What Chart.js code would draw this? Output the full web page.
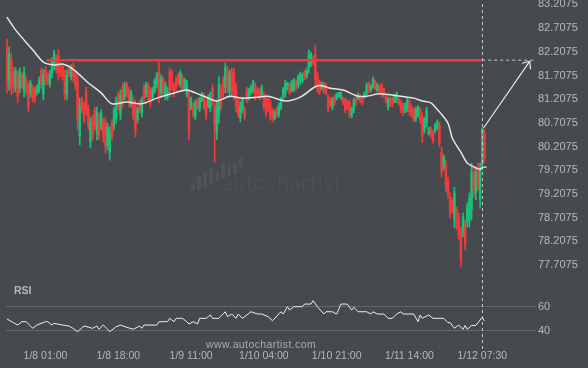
<!DOCTYPE html>
<html>
<head>
<meta charset="utf-8">
<script src="https://cdn.jsdelivr.net/npm/chart.js@4.4.1/dist/chart.umd.min.js"></script>
<style>
  html, body { margin: 0; padding: 0; background: #46494d; }
  #wrap { width: 588px; height: 368px; }
</style>
</head>
<body>
<div id="wrap"><canvas id="chart" width="588" height="368"></canvas></div>
<script>
// half-hour candles, hours counted from 1/8 00:00 (first bar = 1/7 16:00)
const firstHour = -8;
const stepHours = 0.5;

const opens = [
  82.31, 81.59, 82.05, 81.80, 81.46, 81.72, 81.44, 81.72, 81.38, 81.61,
  81.49, 81.34, 81.44, 81.40, 81.34, 81.40, 81.80, 81.32, 81.82, 81.72,
  81.53, 81.74, 81.91, 82.08, 82.14, 81.93, 81.89, 81.72, 81.32, 81.89,
  81.68, 81.91, 81.76, 81.55, 80.43, 81.21, 81.08, 81.38, 81.00, 80.30,
  80.79, 80.98, 80.49, 80.83, 80.64, 80.73, 80.73, 80.24, 80.07, 80.70,
  80.64, 80.81, 81.30, 80.89, 81.46, 81.27, 81.53, 81.40, 81.11, 81.19,
  81.08, 80.77, 81.15, 80.92, 81.44, 81.32, 81.49, 81.40, 81.25, 81.40,
  81.51, 81.78, 81.34, 81.61, 81.27, 81.25, 81.78, 81.76, 81.51, 81.63,
  81.72, 81.53, 81.65, 81.44, 81.32, 81.25, 81.04, 81.08, 80.85, 81.19,
  81.00, 81.19, 81.27, 81.13, 81.08, 81.02, 81.44, 81.08, 80.51, 80.89,
  81.42, 81.61, 81.46, 81.80, 81.36, 81.78, 81.76, 81.46, 81.19, 80.81,
  80.98, 81.00, 81.42, 81.23, 81.34, 81.40, 81.49, 81.42, 81.40, 81.30,
  81.30, 81.23, 81.21, 81.13, 80.98, 80.81, 81.00, 80.89, 81.04, 81.25,
  81.32, 81.44, 81.51, 81.40, 81.42, 81.57, 81.51, 81.57, 81.59, 81.78,
  81.70, 81.87, 81.95, 82.05, 82.14, 81.72, 81.57, 81.44, 81.53, 81.51,
  81.23, 81.21, 81.04, 81.25, 81.21, 81.27, 81.23, 81.23, 81.19, 81.15,
  81.13, 80.85, 80.98, 81.25, 81.21, 81.27, 81.23, 81.25, 81.34, 81.53,
  81.40, 81.49, 81.57, 81.40, 81.49, 81.51, 81.42, 81.25, 81.04, 81.21,
  81.23, 81.17, 81.19, 81.21, 81.15, 81.08, 80.96, 81.00, 81.15, 81.04,
  80.98, 80.79, 80.87, 80.98, 80.83, 80.56, 80.70, 80.47, 80.58, 80.51,
  80.54, 80.60, 80.64, 80.09, 79.78, 79.82, 79.50, 79.14, 79.08, 78.66,
  78.87, 78.72, 78.38, 78.40, 78.55, 78.62, 78.66, 78.87, 79.67, 79.23,
  79.78, 79.10, 79.82, 80.49
];
const highs = [
  82.48, 82.31, 82.18, 81.89, 81.87, 81.82, 81.87, 81.76, 81.89, 81.68,
  81.57, 81.61, 81.51, 81.46, 81.51, 81.68, 81.87, 81.84, 81.89, 81.76,
  81.82, 82.08, 82.25, 82.14, 82.25, 81.97, 81.93, 81.82, 81.82, 81.93,
  81.93, 81.97, 81.82, 81.72, 81.23, 81.25, 81.15, 81.46, 81.08, 80.83,
  80.87, 81.04, 81.04, 80.92, 80.98, 80.81, 80.83, 80.70, 80.62, 80.77,
  81.04, 81.25, 81.36, 81.40, 81.55, 81.57, 81.57, 81.46, 81.40, 81.25,
  81.19, 81.04, 81.19, 81.25, 81.51, 81.57, 81.55, 81.46, 81.46, 81.65,
  81.78, 81.99, 81.72, 81.68, 81.57, 81.46, 81.87, 81.82, 81.55, 81.68,
  81.76, 81.82, 81.72, 81.65, 81.61, 81.40, 81.25, 81.13, 81.19, 81.23,
  81.25, 81.36, 81.34, 81.19, 81.30, 81.36, 81.51, 81.15, 81.19, 81.68,
  81.51, 81.68, 81.97, 81.89, 81.82, 81.87, 81.87, 81.55, 81.25, 81.15,
  81.25, 81.04, 81.46, 81.44, 81.51, 81.61, 81.55, 81.46, 81.44, 81.51,
  81.36, 81.30, 81.25, 81.19, 81.02, 80.98, 81.04, 81.13, 81.25, 81.46,
  81.61, 81.57, 81.55, 81.61, 81.65, 81.61, 81.72, 81.78, 81.76, 81.82,
  81.87, 82.25, 82.20, 82.12, 82.35, 81.78, 81.61, 81.57, 81.57, 81.55,
  81.30, 81.25, 81.25, 81.30, 81.34, 81.36, 81.36, 81.25, 81.23, 81.19,
  81.19, 81.04, 81.23, 81.30, 81.34, 81.30, 81.25, 81.36, 81.55, 81.57,
  81.51, 81.68, 81.61, 81.55, 81.51, 81.55, 81.44, 81.30, 81.25, 81.25,
  81.25, 81.30, 81.36, 81.23, 81.19, 81.13, 81.13, 81.23, 81.19, 81.08,
  81.02, 81.04, 81.08, 81.02, 80.92, 80.83, 81.04, 80.62, 80.62, 80.56,
  80.70, 80.77, 80.73, 80.20, 80.03, 79.92, 79.57, 79.23, 79.12, 79.35,
  78.93, 78.81, 78.51, 78.81, 78.66, 79.02, 79.23, 79.86, 79.78, 79.78,
  79.86, 79.86, 80.60, 80.56
];
const lows = [
  81.34, 81.40, 81.30, 81.34, 81.36, 81.13, 81.34, 81.44, 81.25, 81.30,
  80.94, 81.25, 81.15, 81.13, 81.30, 81.34, 81.44, 81.19, 81.51, 81.51,
  81.46, 81.65, 81.82, 81.76, 81.61, 81.68, 81.61, 81.19, 81.19, 81.68,
  81.61, 81.57, 81.40, 80.56, 80.24, 80.92, 80.70, 80.87, 80.56, 80.18,
  80.35, 80.56, 80.35, 80.35, 80.56, 80.30, 80.07, 80.14, 79.92, 80.35,
  80.56, 80.70, 80.98, 80.77, 81.04, 81.19, 81.25, 81.04, 81.04, 80.77,
  80.41, 80.70, 80.92, 80.83, 81.13, 81.25, 81.19, 81.04, 81.19, 81.34,
  81.44, 81.13, 81.25, 81.30, 81.19, 81.19, 81.25, 81.40, 81.25, 81.40,
  81.51, 81.46, 81.36, 81.40, 81.25, 80.35, 80.98, 80.83, 80.77, 80.98,
  80.94, 81.15, 80.98, 80.77, 81.02, 80.94, 81.08, 79.88, 80.35, 80.70,
  80.98, 81.25, 81.34, 81.34, 81.25, 81.25, 81.19, 80.94, 80.83, 80.73,
  80.92, 80.77, 81.13, 81.19, 81.30, 81.34, 81.19, 81.25, 81.19, 81.25,
  80.98, 80.83, 80.94, 80.77, 80.73, 80.77, 80.83, 80.83, 80.98, 81.19,
  81.25, 81.40, 81.30, 81.36, 81.36, 81.40, 81.44, 81.51, 81.55, 81.61,
  81.65, 81.76, 81.89, 81.93, 81.51, 81.34, 81.30, 81.40, 81.34, 81.30,
  80.94, 81.04, 80.98, 81.08, 81.19, 81.25, 81.19, 81.08, 80.92, 80.98,
  80.81, 80.81, 80.92, 81.08, 81.19, 81.13, 81.08, 81.23, 81.30, 81.34,
  81.36, 81.44, 81.40, 81.36, 81.34, 81.25, 81.25, 81.13, 80.98, 81.04,
  81.04, 81.13, 81.13, 81.08, 80.92, 80.87, 80.92, 80.94, 80.87, 80.81,
  80.73, 80.73, 80.83, 80.70, 80.30, 80.49, 80.62, 80.45, 80.39, 80.28,
  80.49, 80.56, 80.20, 79.57, 79.71, 79.25, 79.12, 78.70, 78.81, 78.49,
  78.45, 78.24, 77.67, 78.30, 78.03, 78.51, 78.51, 78.66, 79.14, 79.08,
  79.29, 78.91, 79.71, 79.88
];
const closes = [
  81.57, 82.18, 81.46, 81.44, 81.78, 81.27, 81.78, 81.51, 81.78, 81.38,
  81.06, 81.55, 81.21, 81.19, 81.46, 81.61, 81.53, 81.74, 81.59, 81.57,
  81.76, 82.01, 82.18, 81.84, 81.74, 81.74, 81.68, 81.32, 81.72, 81.72,
  81.89, 81.65, 81.49, 80.79, 81.08, 80.98, 80.79, 81.00, 80.66, 80.73,
  80.45, 80.66, 80.94, 80.45, 80.92, 80.41, 80.22, 80.62, 80.51, 80.43,
  80.98, 81.17, 81.06, 81.30, 81.15, 81.51, 81.32, 81.13, 81.34, 80.87,
  80.56, 81.00, 80.98, 81.19, 81.21, 81.53, 81.25, 81.13, 81.42, 81.61,
  81.72, 81.30, 81.65, 81.38, 81.51, 81.42, 81.38, 81.49, 81.32, 81.46,
  81.55, 81.76, 81.42, 81.61, 81.55, 80.56, 81.21, 80.89, 81.13, 81.02,
  81.21, 81.32, 81.04, 80.85, 81.25, 81.30, 81.17, 80.66, 81.06, 81.53,
  81.08, 81.34, 81.87, 81.44, 81.74, 81.38, 81.32, 81.06, 80.92, 81.08,
  81.21, 80.83, 81.19, 81.40, 81.46, 81.57, 81.25, 81.30, 81.23, 81.46,
  81.06, 80.92, 81.00, 80.85, 80.79, 80.94, 80.87, 81.08, 81.21, 81.42,
  81.55, 81.55, 81.34, 81.57, 81.61, 81.44, 81.68, 81.74, 81.72, 81.65,
  81.82, 82.16, 82.16, 81.99, 81.65, 81.42, 81.36, 81.55, 81.38, 81.34,
  81.00, 81.08, 81.21, 81.13, 81.32, 81.34, 81.34, 81.13, 80.98, 81.02,
  80.89, 81.00, 81.19, 81.13, 81.32, 81.17, 81.13, 81.34, 81.51, 81.38,
  81.49, 81.63, 81.44, 81.51, 81.38, 81.32, 81.30, 81.17, 81.21, 81.08,
  81.11, 81.27, 81.32, 81.11, 80.98, 80.92, 81.08, 81.19, 80.94, 80.85,
  80.79, 81.00, 81.04, 80.77, 80.43, 80.79, 80.98, 80.60, 80.43, 80.32,
  80.66, 80.73, 80.30, 79.69, 79.99, 79.38, 79.21, 78.81, 78.87, 79.23,
  78.53, 78.34, 77.83, 78.72, 78.15, 78.93, 79.12, 79.67, 79.27, 79.67,
  79.40, 79.71, 80.58, 79.97
];

// moving average
const maHours = [-8, -6, -2, 0.5, 3, 5, 7, 9, 11, 14, 16.5, 20, 23.5, 27, 31, 34, 36, 38, 41, 44,
  47, 50.5, 53, 57, 60.5, 64.5, 67.5, 70.5, 74, 76, 79, 84, 87, 89, 91, 92, 93, 95, 96, 98,
  99.5, 101, 102.5, 103, 104];
const maValues = [82.94, 82.67, 82.25, 81.99, 81.93, 81.95, 81.87, 81.72, 81.55, 81.34, 81.11, 81.15, 81.11, 81.23, 81.34, 81.40, 81.34, 81.27, 81.17, 81.27,
  81.23, 81.25, 81.27, 81.17, 81.25, 81.49, 81.44, 81.40, 81.27, 81.27, 81.32, 81.27, 81.23, 81.17, 81.13, 81.04, 80.94, 80.70, 80.39, 80.09,
  79.86, 79.78, 79.73, 79.76, 79.78];

// RSI panel
const rsiHours = [-8, -6.5, -5.5, -4.5, -3.5, -2, -1, 1, 1.5, 2.5, 3, 5, 6.5, 7.5, 8.5, 10, 12, 13, 13.5, 14.5,
  15.5, 16, 17.5, 18.5, 20, 21.5, 23, 23.5, 24, 27, 27.5, 29.5, 30, 31, 31.5, 33, 34, 34.5, 35.5, 36.5,
  37, 38.5, 39.5, 40, 41.5, 43, 43.5, 44.5, 45.5, 46, 47, 49, 50.5, 51.5, 53, 54, 56, 56.5, 57.5, 58,
  59, 61, 61.5, 63, 63.5, 64.5, 66, 66.5, 68, 69, 70, 71.5, 72.5, 73, 74, 76, 77, 77.5, 78.5, 80,
  81, 82, 83, 84, 84.5, 87, 88, 88.5, 89, 90.5, 91.5, 94, 95, 95.5, 96.5, 97.5, 98.5, 99, 99.5, 100.5,
  101.5, 102.5, 103, 103.5];
const rsiValues = [49.8, 46.7, 44.7, 47.5, 47.5, 42, 44.7, 47.5, 47.5, 44.7, 46.1, 44.7, 43.9, 41.8, 39.2, 43.9, 42, 43.9, 41.2, 44.7,
  41.2, 39.2, 43.3, 44.7, 42.8, 41.2, 43.9, 42, 44.7, 44.7, 47.5, 47.5, 50.3, 47.5, 50.3, 50.3, 47.5, 45.6, 47.5, 45.6,
  50.3, 50.3, 53.1, 50.3, 50.3, 55.8, 51.7, 53.9, 50.3, 53.9, 50.3, 55.8, 53.9, 53.9, 51.7, 48.3, 55.8, 53.9, 60, 57.2,
  60, 60, 62.2, 62.2, 65, 60, 53.9, 55.8, 55.8, 53.9, 62.2, 62.2, 57.2, 59.5, 55.8, 55.8, 53.9, 55.8, 53.9, 53.9,
  50.3, 50.3, 53.9, 55.8, 53.9, 53.9, 47.5, 53.1, 50.3, 53.1, 50.3, 50.3, 46.7, 46.7, 42, 44.7, 41.1, 44.4, 41.1, 44.4,
  44.4, 48.9, 51.2, 48.3];

// resistance level and forecast arrow
const levelPrice = 82.03;
const levelStartHour = 1.3;
const nowHour = 103;
const arrowStartPrice = 80.60;
const targetHour = 114.1;
const targetPrice = 82.01;

const priceTicks = [83.2075, 82.7075, 82.2075, 81.7075, 81.2075, 80.7075, 80.2075, 79.7075, 79.2075, 78.7075, 78.2075, 77.7075];
const rsiTicks = [40, 60];
const xTickHours = [1, 18, 35, 52, 69, 86, 103];
const xTickLabels = ['1/8 01:00', '1/8 18:00', '1/9 11:00', '1/10 04:00', '1/10 21:00', '1/11 14:00', '1/12 07:30'];

const BG = '#46494d';
const UP = '#17c27b';
const DOWN = '#f23b3b';
const TEXT = '#b6b8bb';
const FONT = "'Liberation Sans', Arial, sans-serif";

const candleTimes = opens.map((_, i) => firstHour + i * stepHours);
const candleColor = ctx => closes[ctx.dataIndex] >= opens[ctx.dataIndex] ? UP : DOWN;

const decorPlugin = {
  id: 'decor',
  beforeDraw(chart) {
    const c = chart.ctx;
    c.save();
    c.fillStyle = BG;
    c.fillRect(0, 0, chart.width, chart.height);
    // faint watermark
    c.fillStyle = 'rgba(255,255,255,0.06)';
    const bars = [[191, 183, 190], [197, 176, 190], [203, 172, 188], [209, 168, 184], [215, 171, 181], [221, 163, 178], [227, 166, 176], [233, 163, 174], [239, 157, 167]];
    bars.forEach(b => { c.fillRect(b[0], b[1], 4, b[2] - b[1]); });
    c.font = '300 21px Lato, sans-serif';
    if ('letterSpacing' in c) c.letterSpacing = '1px';
    c.textBaseline = 'alphabetic';
    c.fillText('autochartist', 222, 190);
    c.restore();
  },
  afterDatasetsDraw(chart) {
    const c = chart.ctx;
    const x = chart.scales.x.getPixelForValue(nowHour);
    c.save();
    c.strokeStyle = '#c6c8ca';
    c.lineWidth = 1;
    c.setLineDash([3, 3]);
    c.beginPath();
    c.moveTo(Math.round(x) + 0.5, 4);
    c.lineTo(Math.round(x) + 0.5, chart.chartArea.bottom + 4);
    c.stroke();
    c.setLineDash([]);
    // arrow head at the end of the forecast segment
    const pts = chart.getDatasetMeta(2).data;
    const a = pts[0], b = pts[1];
    const ang = Math.atan2(a.y - b.y, a.x - b.x);
    c.strokeStyle = '#e8e8e8';
    c.lineWidth = 1.2;
    c.beginPath();
    c.moveTo(b.x + 8 * Math.cos(ang - 0.7), b.y + 8 * Math.sin(ang - 0.7));
    c.lineTo(b.x, b.y);
    c.lineTo(b.x + 8 * Math.cos(ang + 0.7), b.y + 8 * Math.sin(ang + 0.7));
    c.stroke();
    // labels
    c.fillStyle = TEXT;
    c.font = 'bold 10.5px ' + FONT;
    c.textBaseline = 'middle';
    c.fillText('RSI', 14, 291.5);
    c.font = '10.5px ' + FONT;
    c.textAlign = 'center';
    if ('letterSpacing' in c) c.letterSpacing = '0.4px';
    c.fillStyle = '#a9abae';
    c.fillText('www.autochartist.com', 261, 345);
    c.restore();
  }
};

new Chart(document.getElementById('chart'), {
  type: 'bar',
  data: {
    datasets: [
      {
        type: 'line', label: 'level', yAxisID: 'y',
        data: [{ x: levelStartHour, y: levelPrice }, { x: nowHour, y: levelPrice }],
        borderColor: '#ee3b3b', borderWidth: 2.5, pointRadius: 0
      },
      {
        type: 'line', label: 'projection', yAxisID: 'y',
        data: [{ x: nowHour, y: levelPrice }, { x: 116, y: levelPrice }],
        borderColor: '#c6c8ca', borderWidth: 1, borderDash: [3, 3], pointRadius: 0
      },
      {
        type: 'line', label: 'arrow', yAxisID: 'y',
        data: [{ x: nowHour + 0.3, y: arrowStartPrice }, { x: targetHour, y: targetPrice }],
        borderColor: '#e8e8e8', borderWidth: 1.2, pointRadius: 0
      },
      {
        type: 'line', label: 'MA', yAxisID: 'y',
        data: maHours.map((h, i) => ({ x: h, y: maValues[i] })),
        borderColor: '#e6e6e6', borderWidth: 1.5, pointRadius: 0, tension: 0.3
      },
      {
        type: 'line', label: 'RSI', yAxisID: 'rsi',
        data: rsiHours.map((h, i) => ({ x: h, y: rsiValues[i] })),
        borderColor: '#eeeeee', borderWidth: 1, pointRadius: 0
      },
      {
        label: 'body', yAxisID: 'y', grouped: false,
        data: candleTimes.map((t, i) => ({ x: t, y: [opens[i], closes[i]] })),
        backgroundColor: candleColor, barThickness: 1.8
      },
      {
        label: 'wick', yAxisID: 'y', grouped: false,
        data: candleTimes.map((t, i) => ({ x: t, y: [lows[i], highs[i]] })),
        backgroundColor: candleColor, barThickness: 1
      }
    ]
  },
  options: {
    responsive: false,
    animation: false,
    events: [],
    layout: { padding: { left: 6, top: 2, right: 0, bottom: 0 } },
    plugins: { legend: { display: false }, tooltip: { enabled: false } },
    scales: {
      x: {
        type: 'linear', min: -8.225, max: 115.55, offset: false,
        grid: { display: false, drawTicks: false },
        border: { display: false },
        ticks: {
          color: TEXT, font: { family: FONT, size: 10.5 }, padding: 4,
          autoSkip: false, maxRotation: 0,
          callback: (v, i) => xTickLabels[i]
        },
        afterBuildTicks: s => { s.ticks = xTickHours.map(v => ({ value: v })); },
        afterFit: s => { s.height = 22; s.paddingLeft = 0; s.paddingRight = 0; }
      },
      y: {
        type: 'linear', position: 'right', stack: 'panels', stackWeight: 288, weight: 0,
        min: 77.182, max: 83.258,
        grid: { display: false, drawTicks: false },
        border: { display: false },
        ticks: { color: TEXT, font: { family: FONT, size: 11 }, padding: 2, autoSkip: false, callback: v => v.toFixed(4) },
        afterBuildTicks: s => { s.ticks = priceTicks.map(v => ({ value: v })); },
        afterFit: s => { s.width = 52; s.paddingTop = 0; s.paddingBottom = 0; }
      },
      rsi: {
        type: 'linear', position: 'right', stack: 'panels', stackWeight: 56, weight: 1,
        min: 27.25, max: 73.92,
        grid: { color: '#64676b', drawTicks: false },
        border: { display: false },
        ticks: { color: TEXT, font: { family: FONT, size: 11 }, padding: 2, autoSkip: false, callback: v => String(v) },
        afterBuildTicks: s => { s.ticks = rsiTicks.map(v => ({ value: v })); },
        afterFit: s => { s.width = 52; s.paddingTop = 0; s.paddingBottom = 0; }
      }
    }
  },
  plugins: [decorPlugin]
});
</script>
</body>
</html>
